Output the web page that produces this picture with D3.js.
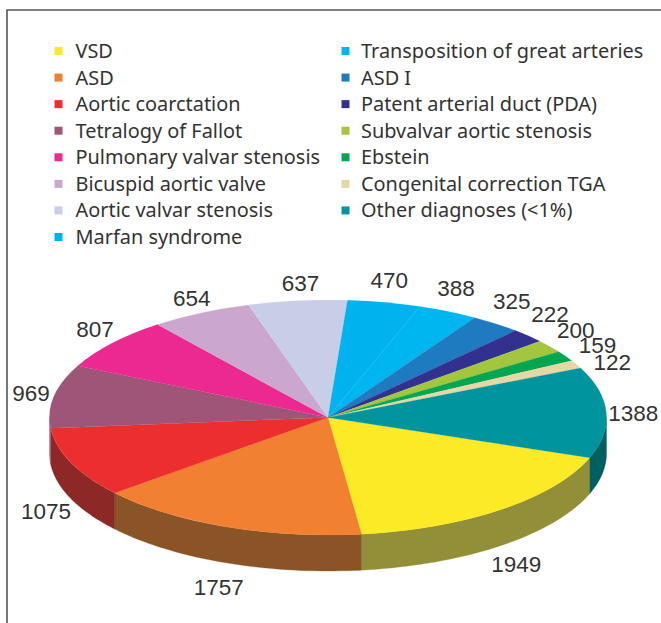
<!DOCTYPE html>
<html>
<head>
<meta charset="utf-8">
<script src="https://cdn.jsdelivr.net/npm/d3@7"></script>
<style>
  html, body { margin: 0; padding: 0; background: #fff; }
  svg { display: block; }
  .legend-text { font-family: "Noto Sans", sans-serif; font-size: 19.9px; fill: #333; }
  .value-label { font-family: "Liberation Sans", sans-serif; font-size: 22.5px; fill: #333; text-anchor: middle; }
</style>
</head>
<body>
<div id="chart"></div>
<script>
const categories = ["VSD", "ASD", "Aortic coarctation", "Tetralogy of Fallot", "Pulmonary valvar stenosis",
  "Bicuspid aortic valve", "Aortic valvar stenosis", "Marfan syndrome", "Transposition of great arteries",
  "ASD I", "Patent arterial duct (PDA)", "Subvalvar aortic stenosis", "Ebstein", "Congenital correction TGA",
  "Other diagnoses (<1%)"];
const values = [1949, 1757, 1075, 969, 807, 654, 637, 470, 388, 325, 222, 200, 159, 122, 1388];
const colors = ["#fdea26", "#f28031", "#ed2e2e", "#9f5577", "#ec2891", "#cba6cd", "#c9cee8", "#00b3ef",
  "#00b6f0", "#1f7bc0", "#32318f", "#a4c63e", "#00a651", "#e5d8a5", "#00959e"];
const wallColors = ["#928f38", "#8b5426", "#8c2825", "#9d5577", "#8c1a57", "#7a647b", "#7a7d8c", "#006c90",
  "#006e90", "#134a73", "#1e1e56", "#637725", "#006431", "#8a8263", "#005f5f"];

// label nudges from the rim of the pie, hand placed like the original
const labelNudge = [[15, 19], [-7, 24], [-25, 12], [-23, -3], [-17, -14], [-9, -15], [3, -18],
  [5, -22], [8, -23], [16, -23], [22, -22], [26, -16], [32, -11], [36, -2], [27, 1]];

const width = 661, height = 623;
const cx = 328, cy = 417.5, rx = 278.5, ry = 117.5, depth = 36;

const svg = d3.select("#chart").append("svg").attr("width", width).attr("height", height);

// frame (open on the right and at the bottom, cropped like the scan)
svg.append("path")
  .attr("d", d3.line()([[7, height], [7, 10], [width, 10]]))
  .attr("fill", "none")
  .attr("stroke", "#555")
  .attr("stroke-width", 1.6);

// legend: two columns
const rowY = d3.scaleLinear().domain([0, 7]).range([51, 237]);
const legend = svg.append("g").attr("class", "legend");
categories.forEach((name, i) => {
  const col = i < 8 ? 0 : 1;
  const row = i < 8 ? i : i - 8;
  const x = col === 0 ? 54.5 : 341.5;
  legend.append("rect")
    .attr("x", x).attr("y", rowY(row) - 4)
    .attr("width", 8).attr("height", 8)
    .attr("fill", colors[i]);
  legend.append("text")
    .attr("class", "legend-text")
    .attr("x", col === 0 ? 75.5 : 361)
    .attr("y", rowY(row))
    .attr("dy", "0.35em")
    .text(name);
});

// pie angles, first slice starts 20 degrees below 3 o'clock
const startAngle = 110 * Math.PI / 180;
const pie = d3.pie().sort(null).startAngle(startAngle).endAngle(startAngle + 2 * Math.PI);
const arcs = pie(values);

const rim = (a, drop) => [Math.sin(a) * rx, -Math.cos(a) * ry + drop];

const chart = svg.append("g").attr("transform", "translate(" + cx + "," + cy + ")");

// side walls: only the front half of the ellipse shows
const walls = chart.append("g");
arcs.forEach((d, i) => {
  // wrap slices that pass 360 back into the same turn
  const turn = d.startAngle >= 2 * Math.PI ? 2 * Math.PI : 0;
  const a0 = Math.max(d.startAngle - turn, Math.PI / 2);
  const a1 = Math.min(d.endAngle - turn, 3 * Math.PI / 2);
  if (a1 <= a0) return;
  const steps = d3.range(0, 41).map((k) => a0 + (a1 - a0) * k / 40);
  const pts = steps.map((a) => rim(a, 0)).concat(steps.slice().reverse().map((a) => rim(a, depth)));
  walls.append("path")
    .attr("d", d3.line()(pts) + "Z")
    .attr("fill", wallColors[i])
    .attr("stroke", wallColors[i])
    .attr("stroke-width", 0.3);
});

// top face: a unit circle arc squashed into the ellipse
const arc = d3.arc().innerRadius(0).outerRadius(rx);
chart.append("g")
  .attr("transform", "scale(1," + (ry / rx) + ")")
  .selectAll("path")
  .data(arcs)
  .join("path")
  .attr("d", arc)
  .attr("fill", (d, i) => colors[i])
  .attr("stroke", (d, i) => colors[i])
  .attr("stroke-width", 0.3);

// value labels
chart.append("g")
  .selectAll("text")
  .data(arcs)
  .join("text")
  .attr("class", "value-label")
  .attr("x", (d, i) => rim((d.startAngle + d.endAngle) / 2, 0)[0] + labelNudge[i][0])
  .attr("y", (d, i) => {
    const mid = (d.startAngle + d.endAngle) / 2;
    return rim(mid, Math.cos(mid) < 0 ? depth : 0)[1] + labelNudge[i][1];
  })
  .attr("dy", "0.35em")
  .text((d) => d.value);
</script>
</body>
</html>
